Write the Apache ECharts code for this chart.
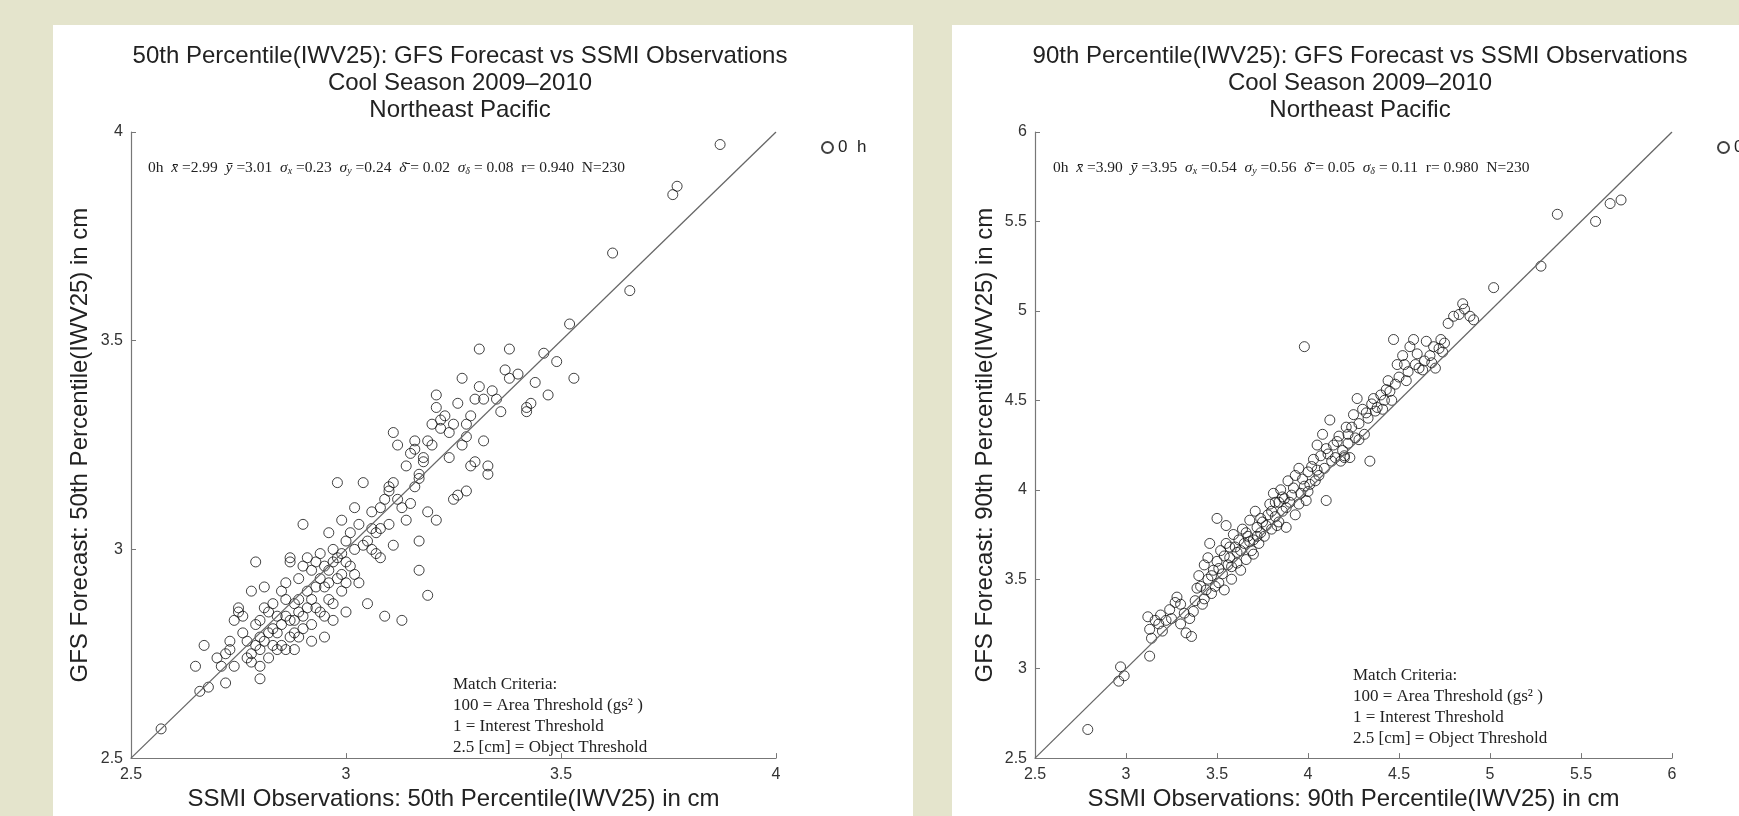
<!DOCTYPE html>
<html>
<head>
<meta charset="utf-8">
<script src="https://cdn.jsdelivr.net/npm/echarts@6/dist/echarts.min.js"></script>
<style>
  html, body { margin: 0; padding: 0; background: #e4e4cc; }
  #chart { width: 1739px; height: 816px; }
</style>
</head>
<body>
<div id="chart"></div>
<script>
// 50th percentile: [SSMI obs, GFS forecast]
const points50 = [
  [2.57,2.57],[2.65,2.72],[2.66,2.66],[2.68,2.67],[2.67,2.77],[2.70,2.74],[2.71,2.72],[2.72,2.68],
  [2.73,2.76],[2.73,2.78],[2.74,2.72],[2.74,2.83],[2.75,2.85],[2.75,2.86],[2.76,2.80],[2.77,2.74],
  [2.77,2.78],[2.78,2.75],[2.78,2.73],[2.78,2.90],[2.79,2.97],[2.79,2.82],[2.80,2.69],[2.80,2.72],
  [2.80,2.76],[2.80,2.79],[2.81,2.91],[2.81,2.86],[2.81,2.78],[2.82,2.74],[2.82,2.80],[2.83,2.87],
  [2.83,2.77],[2.84,2.80],[2.84,2.84],[2.85,2.82],[2.85,2.77],[2.86,2.76],[2.86,2.88],[2.86,2.92],
  [2.87,2.97],[2.87,2.98],[2.87,2.83],[2.88,2.87],[2.88,2.76],[2.88,2.80],[2.89,2.85],[2.89,2.93],
  [2.89,2.79],[2.90,3.06],[2.90,2.96],[2.90,2.84],[2.91,2.98],[2.91,2.90],[2.92,2.95],[2.92,2.88],
  [2.92,2.82],[2.93,2.97],[2.93,2.86],[2.94,2.93],[2.94,2.99],[2.95,2.91],[2.95,2.84],[2.95,2.79],
  [2.96,2.92],[2.96,2.95],[2.96,3.04],[2.97,2.87],[2.97,3.00],[2.97,2.97],[2.98,2.93],[2.98,3.16],
  [2.99,2.99],[2.99,3.07],[2.99,2.94],[3.00,3.02],[3.00,2.92],[3.00,2.85],[3.01,3.04],[3.01,2.96],
  [3.02,3.10],[3.02,3.00],[3.03,2.92],[3.03,3.06],[3.04,3.16],[3.05,3.02],[3.05,2.87],[3.06,3.00],
  [3.06,3.09],[3.07,3.04],[3.07,2.99],[3.08,3.10],[3.08,3.05],[3.09,2.84],[3.10,3.15],[3.10,3.14],
  [3.10,3.06],[3.11,3.28],[3.11,3.01],[3.12,3.12],[3.12,3.25],[3.13,3.10],[3.13,2.83],[3.14,3.07],
  [3.15,3.11],[3.15,3.23],[3.16,3.24],[3.16,3.26],[3.17,3.17],[3.17,3.18],[3.17,3.02],[3.17,2.95],
  [3.18,3.21],[3.18,3.22],[3.19,3.09],[3.19,2.89],[3.20,3.25],[3.20,3.30],[3.21,3.37],[3.21,3.34],
  [3.21,3.07],[3.22,3.31],[3.23,3.32],[3.24,3.28],[3.25,3.30],[3.25,3.12],[3.26,3.13],[3.27,3.41],
  [3.27,3.25],[3.28,3.27],[3.28,3.30],[3.28,3.14],[3.29,3.20],[3.30,3.21],[3.30,3.36],[3.31,3.39],
  [3.31,3.48],[3.32,3.36],[3.32,3.26],[3.33,3.20],[3.33,3.18],[3.35,3.36],[3.36,3.33],[3.38,3.41],
  [3.38,3.48],[3.40,3.42],[3.42,3.34],[3.42,3.33],[3.43,3.35],[3.46,3.47],[3.47,3.37],[3.52,3.54],
  [3.53,3.41],[3.62,3.71],[3.66,3.62],[3.76,3.85],[3.77,3.87],[3.87,3.97],
  [2.72,2.75],[2.76,2.84],[2.79,2.77],[2.80,2.83],[2.82,2.85],[2.83,2.81],[2.84,2.76],[2.85,2.90],
  [2.86,2.84],[2.87,2.79],[2.88,2.83],[2.89,2.88],[2.90,2.81],[2.91,2.86],[2.92,2.78],[2.93,2.91],
  [2.94,2.85],[2.95,2.96],[2.96,2.88],[2.97,2.83],[2.98,2.98],[2.99,2.90],[3.00,2.97],[3.02,2.94],
  [3.04,3.01],[3.06,3.05],[3.08,2.98],[3.09,3.12],[3.11,3.16],[3.14,3.20],[3.16,3.15],[3.19,3.26],
  [3.22,3.29],[3.24,3.22],[3.26,3.35],[3.29,3.32],[3.34,3.38],[3.37,3.43],[3.44,3.40],[3.49,3.45]
];

// 90th percentile: [SSMI obs, GFS forecast]
const points90 = [
  [2.79,2.66],[2.96,2.93],[2.97,3.01],[2.99,2.96],[3.12,3.29],[3.13,3.22],[3.14,3.17],[3.13,3.07],
  [3.16,3.27],[3.18,3.25],[3.19,3.30],[3.22,3.27],[3.25,3.28],[3.27,3.37],[3.28,3.40],[3.30,3.36],
  [3.30,3.25],[3.33,3.20],[3.35,3.28],[3.36,3.18],[3.37,3.32],[3.38,3.38],[3.40,3.52],[3.41,3.46],
  [3.42,3.36],[3.43,3.58],[3.44,3.44],[3.45,3.50],[3.45,3.62],[3.46,3.70],[3.47,3.42],[3.48,3.55],
  [3.49,3.46],[3.50,3.84],[3.50,3.60],[3.51,3.48],[3.52,3.66],[3.53,3.53],[3.54,3.44],[3.55,3.80],
  [3.55,3.70],[3.56,3.58],[3.57,3.62],[3.58,3.50],[3.59,3.75],[3.60,3.68],[3.61,3.65],[3.62,3.72],
  [3.63,3.55],[3.64,3.78],[3.65,3.70],[3.66,3.61],[3.67,3.74],[3.68,3.83],[3.69,3.66],[3.70,3.72],
  [3.71,3.88],[3.72,3.79],[3.73,3.70],[3.74,3.76],[3.75,3.82],[3.76,3.74],[3.78,3.86],[3.79,3.92],
  [3.80,3.78],[3.81,3.98],[3.82,3.85],[3.83,3.80],[3.84,3.93],[3.85,4.00],[3.86,3.88],[3.87,3.95],
  [3.88,3.79],[3.89,4.05],[3.90,3.93],[3.92,4.01],[3.93,3.86],[3.95,4.12],[3.96,3.98],[3.97,4.06],
  [3.98,4.80],[3.99,3.94],[4.00,4.10],[4.01,4.03],[4.03,4.17],[4.04,4.05],[4.05,4.25],[4.06,4.08],
  [4.08,4.31],[4.09,4.12],[4.10,3.94],[4.11,4.20],[4.12,4.39],[4.14,4.25],[4.15,4.18],[4.16,4.27],
  [4.18,4.16],[4.19,4.22],[4.20,4.19],[4.21,4.35],[4.22,4.31],[4.23,4.18],[4.25,4.42],[4.26,4.29],
  [4.27,4.51],[4.28,4.37],[4.30,4.45],[4.31,4.31],[4.32,4.43],[4.34,4.16],[4.35,4.48],[4.36,4.51],
  [4.38,4.46],[4.40,4.53],[4.41,4.45],[4.43,4.56],[4.44,4.61],[4.46,4.50],[4.47,4.84],[4.48,4.59],
  [4.50,4.63],[4.52,4.75],[4.53,4.70],[4.55,4.66],[4.56,4.80],[4.58,4.84],[4.59,4.70],[4.61,4.68],
  [4.63,4.67],[4.65,4.83],[4.67,4.75],[4.68,4.71],[4.70,4.68],[4.72,4.79],[4.73,4.84],[4.75,4.82],
  [4.77,4.93],[4.80,4.97],[4.83,4.98],[4.85,5.04],[4.86,5.01],[4.89,4.97],[4.91,4.95],[5.02,5.13],
  [5.28,5.25],[5.37,5.54],[5.58,5.50],[5.66,5.60],[5.72,5.62],
  [3.20,3.21],[3.24,3.33],[3.32,3.31],[3.39,3.45],[3.43,3.39],[3.47,3.52],[3.51,3.56],[3.54,3.63],
  [3.57,3.68],[3.58,3.57],[3.61,3.59],[3.63,3.66],[3.66,3.76],[3.68,3.71],[3.70,3.64],[3.72,3.74],
  [3.74,3.84],[3.77,3.80],[3.80,3.88],[3.82,3.93],[3.84,3.82],[3.86,3.96],[3.88,3.90],[3.91,3.97],
  [3.93,4.08],[3.95,3.92],[3.98,4.02],[4.00,3.99],[4.02,4.13],[4.05,4.11],[4.07,4.19],[4.10,4.23],
  [4.13,4.16],[4.17,4.30],[4.20,4.18],[4.22,4.26],[4.24,4.35],[4.28,4.28],[4.33,4.40],[4.37,4.44],
  [4.42,4.50],[4.45,4.55],[4.49,4.70],[4.54,4.61],[4.60,4.76],[4.64,4.72],[4.69,4.80],[4.74,4.77]
];

const ticks50 = [2.5, 3, 3.5, 4];
const ticks90 = [2.5, 3, 3.5, 4, 4.5, 5, 5.5, 6];

const criteria = [
  'Match Criteria:',
  '100 = Area Threshold (gs² )',
  '1 = Interest Threshold',
  '2.5 [cm] = Object Threshold'
];
const stats50 = '0h  {i|x̄} =2.99  {i|ȳ} =3.01  {i|σ}{s|x} =0.23  {i|σ}{s|y} =0.24  {i|δ̄} = 0.02  {i|σ}{s|δ} = 0.08  r= 0.940  N=230';
const stats90 = '0h  {i|x̄} =3.90  {i|ȳ} =3.95  {i|σ}{s|x} =0.54  {i|σ}{s|y} =0.56  {i|δ̄} = 0.05  {i|σ}{s|δ} = 0.11  r= 0.980  N=230';

const chart = echarts.init(document.getElementById('chart'));

const sans = 'Liberation Sans, Arial, sans-serif';
const serif = 'Liberation Serif, Times New Roman, serif';

const makeAxis = (gridIndex, min, max, name, gap) => ({
  gridIndex,
  type: 'value',
  min,
  max,
  interval: 0.5,
  name,
  nameLocation: 'middle',
  nameGap: gap,
  nameTextStyle: { fontFamily: sans, fontSize: 24, color: '#222' },
  axisLine: { show: true, lineStyle: { color: '#777', width: 1.2 } },
  axisTick: { show: true, inside: true, length: 5, lineStyle: { color: '#777' } },
  axisLabel: { fontFamily: sans, fontSize: 16, color: '#333', margin: 8 },
  splitLine: { show: false }
});

const richStats = {
  i: { fontFamily: serif, fontStyle: 'italic', fontSize: 15.5, fill: '#222' },
  s: { fontFamily: serif, fontStyle: 'italic', fontSize: 10, fill: '#222', verticalAlign: 'bottom', lineHeight: 16 }
};

const criteriaText = (x, y) => ({
  type: 'text',
  x, y,
  style: {
    text: criteria.join('\n'),
    font: '17px ' + serif,
    fill: '#222',
    lineHeight: 21
  }
});

const titleStyle = { fontFamily: sans, fontSize: 24, fontWeight: 'normal', color: '#222', lineHeight: 27 };
const legendText = { fontFamily: sans, fontSize: 17, color: '#222' };

const option = {
  backgroundColor: '#e4e4cc',
  animation: false,
  title: [
    {
      text: '50th Percentile(IWV25): GFS Forecast vs SSMI Observations\nCool Season 2009–2010\nNortheast Pacific',
      left: 455, top: 38, textAlign: 'center', textStyle: titleStyle
    },
    {
      text: '90th Percentile(IWV25): GFS Forecast vs SSMI Observations\nCool Season 2009–2010\nNortheast Pacific',
      left: 1355, top: 38, textAlign: 'center', textStyle: titleStyle
    }
  ],
  legend: [
    {
      left: 816, top: 134, icon: 'circle', itemWidth: 11, itemHeight: 11, itemGap: 6,
      textStyle: legendText, formatter: () => '0  h',
      data: ['0 h']
    },
    {
      left: 1712, top: 134, icon: 'circle', itemWidth: 11, itemHeight: 11,
      textStyle: legendText, formatter: () => '0  h',
      data: ['0 h']
    }
  ],
  grid: [
    { left: 131, top: 132, width: 645, height: 645 },
    { left: 1035, top: 132, width: 637, height: 636 }
  ],
  xAxis: [
    makeAxis(0, ticks50[0], ticks50[ticks50.length - 1], 'SSMI Observations: 50th Percentile(IWV25) in cm', 27),
    makeAxis(1, ticks90[0], ticks90[ticks90.length - 1], 'SSMI Observations: 90th Percentile(IWV25) in cm', 21)
  ],
  yAxis: [
    makeAxis(0, ticks50[0], ticks50[ticks50.length - 1], 'GFS Forecast: 50th Percentile(IWV25) in cm', 39),
    makeAxis(1, ticks90[0], ticks90[ticks90.length - 1], 'GFS Forecast: 90th Percentile(IWV25) in cm', 38)
  ],
  graphic: [
    { type: 'rect', z: -10, shape: { x: 53, y: 25, width: 860, height: 791 }, style: { fill: '#fff' } },
    { type: 'rect', z: -10, shape: { x: 952, y: 25, width: 787, height: 791 }, style: { fill: '#fff' } },
    { type: 'text', x: 148, y: 160, style: { text: stats50, font: '15.5px ' + serif, fill: '#222', rich: richStats } },
    { type: 'text', x: 1053, y: 160, style: { text: stats90, font: '15.5px ' + serif, fill: '#222', rich: richStats } },
    criteriaText(453, 674),
    criteriaText(1353, 665)
  ],
  series: [
    {
      name: '0 h', type: 'scatter', xAxisIndex: 0, yAxisIndex: 0,
      symbol: 'circle', symbolSize: 10,
      itemStyle: { color: 'rgba(0,0,0,0)', borderColor: '#111', borderWidth: 1 },
      data: points50
    },
    {
      type: 'line', xAxisIndex: 0, yAxisIndex: 0, symbol: 'none', silent: true,
      lineStyle: { color: '#666', width: 1.3 },
      data: [[ticks50[0], ticks50[0]], [ticks50[3], ticks50[3]]]
    },
    {
      name: '0 h', type: 'scatter', xAxisIndex: 1, yAxisIndex: 1,
      symbol: 'circle', symbolSize: 10,
      itemStyle: { color: 'rgba(0,0,0,0)', borderColor: '#111', borderWidth: 1 },
      data: points90
    },
    {
      type: 'line', xAxisIndex: 1, yAxisIndex: 1, symbol: 'none', silent: true,
      lineStyle: { color: '#666', width: 1.3 },
      data: [[ticks90[0], ticks90[0]], [ticks90[7], ticks90[7]]]
    }
  ]
};

chart.setOption(option);
</script>
</body>
</html>
